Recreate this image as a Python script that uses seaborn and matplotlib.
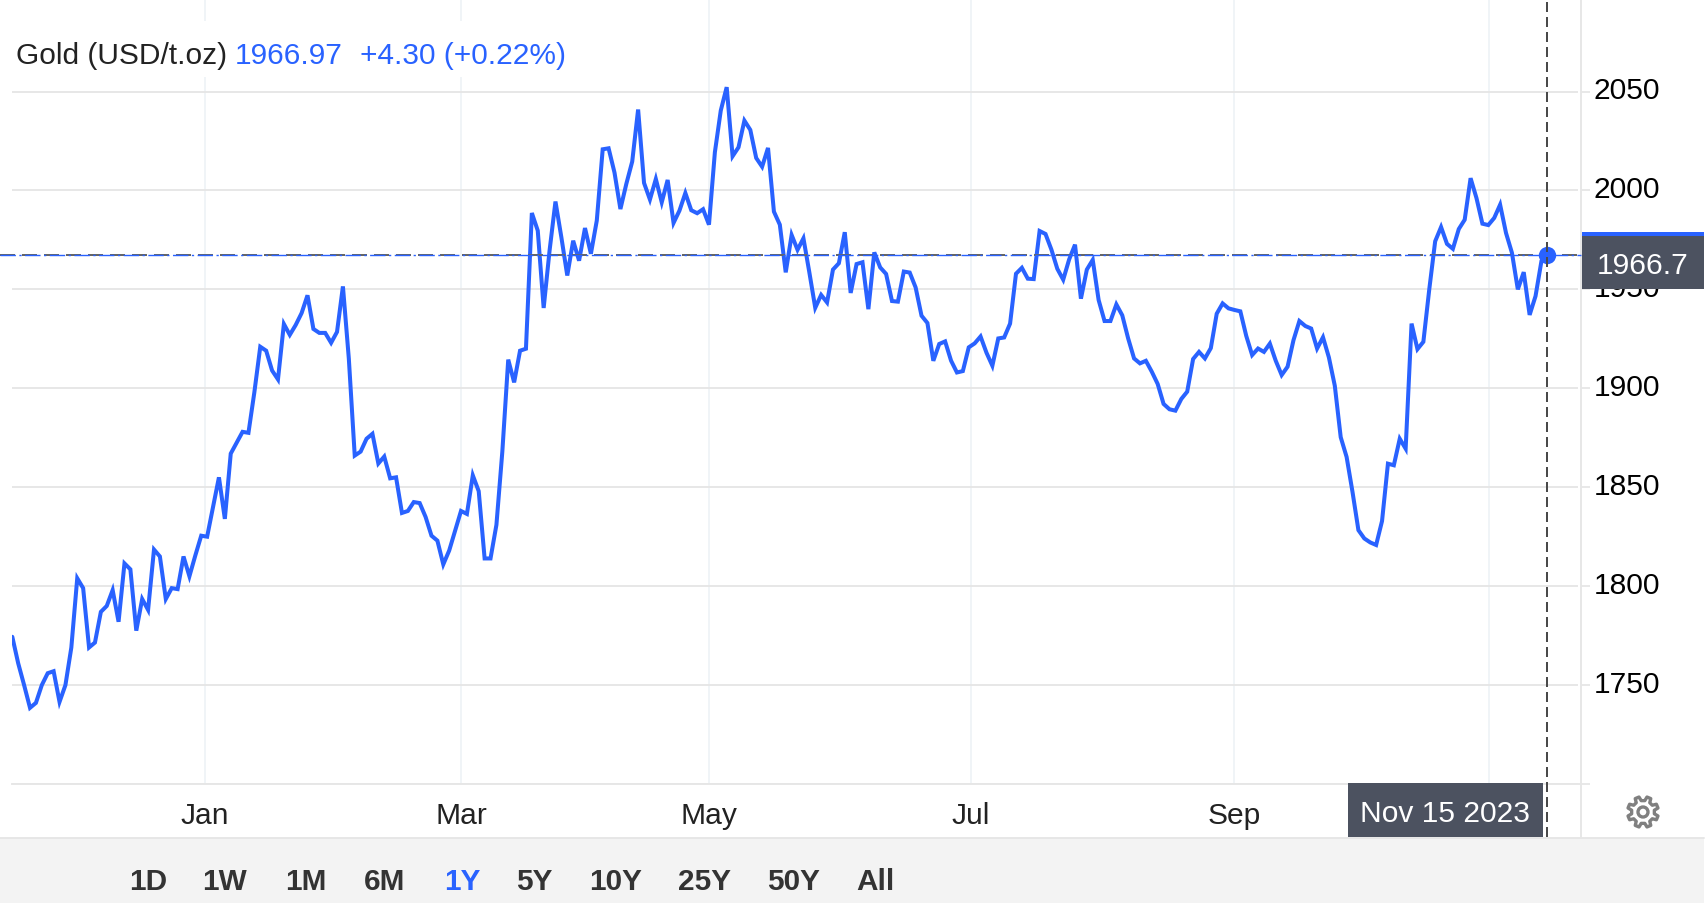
import numpy as np
import pandas as pd
import matplotlib
matplotlib.use("Agg")
import matplotlib.pyplot as plt
from matplotlib.patches import Rectangle, Polygon, Circle
from matplotlib.transforms import ScaledTranslation
import seaborn as sns

gold_prices = [
    1774.4, 1761, 1750, 1738.5, 1741, 1750, 1756, 1757, 1741.5, 1750,
    1769, 1804, 1799, 1769, 1771.5, 1787, 1790, 1798, 1782, 1811.5,
    1808.5, 1777.5, 1793.5, 1788, 1818.5, 1815, 1793.5, 1799, 1798.5, 1815,
    1805, 1815.5, 1825.5, 1825, 1840, 1855, 1834, 1867, 1872.5, 1878,
    1877.5, 1898, 1921, 1919, 1909, 1904.5, 1932.5, 1927, 1932, 1938,
    1947, 1930, 1928, 1928, 1923, 1928.5, 1951.5, 1915, 1866, 1868,
    1874.5, 1877, 1862, 1865.5, 1854.5, 1855, 1837, 1838, 1842.5, 1842,
    1835, 1825.5, 1823, 1811, 1818, 1828, 1838, 1836.5, 1856, 1848,
    1814, 1814, 1831, 1868, 1914.5, 1903, 1919, 1920, 1988.6, 1979.7,
    1940.6, 1969.6, 1994.4, 1976.3, 1957, 1974.6, 1964.5, 1981, 1968, 1984.8,
    2020.8, 2021.3, 2009, 1990.6, 2003.3, 2014.6, 2040.9, 2003.8, 1995.4, 2005.8,
    1994, 2005.3, 1983.6, 1989.8, 1998.7, 1990, 1988.5, 1990.5, 1982.7, 2019.3,
    2040.4, 2052.2, 2017.3, 2021.8, 2035.3, 2030.6, 2016.4, 2012, 2021.5, 1989.3,
    1982.7, 1958.6, 1977.5, 1970, 1975.8, 1958.6, 1940.7, 1947.2, 1943.4, 1960,
    1963.2, 1978.9, 1948.2, 1962.8, 1963.7, 1940, 1968.7, 1961.1, 1957.8, 1944.1,
    1943.8, 1959, 1958.5, 1951, 1936.7, 1933, 1913.9, 1922.4, 1923.7, 1914,
    1908, 1908.7, 1920.7, 1922.7, 1926.2, 1918, 1911.4, 1925.2, 1925.7, 1932.7,
    1957.9, 1960.9, 1955.4, 1955.2, 1979.5, 1978, 1970.1, 1960.4, 1954.9, 1965.1,
    1972.6, 1945.3, 1960, 1964.9, 1944.6, 1934, 1934, 1942.4, 1936.9, 1925.2,
    1915.1, 1912.6, 1913.9, 1908.4, 1902.2, 1892.1, 1889.4, 1888.7, 1894.6, 1898.3,
    1914.8, 1918.4, 1915.1, 1920.3, 1937.7, 1942.9, 1940.4, 1939.6, 1938.9, 1926.5,
    1916.8, 1920.1, 1918.4, 1922.6, 1913.9, 1906.7, 1910.9, 1924.3, 1934, 1931.5,
    1930.2, 1920.1, 1925.8, 1915.6, 1901.3, 1875.3, 1865.3, 1847.6, 1828.3, 1824.1,
    1822.1, 1820.8, 1832.9, 1861.9, 1861.1, 1874.5, 1869.5, 1932.7, 1919.8, 1923.5,
    1950, 1974.3, 1981.5, 1973, 1970.5, 1980.5, 1985.2, 2006.2, 1996.1, 1983.2,
    1982.5, 1986.1, 1992.8, 1978.5, 1968.5, 1950, 1958.7, 1937.1, 1946.6, 1964.3,
    1967.5,
]
month_positions = [32.6, 76.0, 118.0, 162.4, 206.9, 250.1]
month_labels = ["Jan", "Mar", "May", "Jul", "Sep", ""]
price_ticks = [1700, 1750, 1800, 1850, 1900, 1950, 2000, 2050]
price_tick_labels = ["", "1750", "1800", "1850", "1900", "1950", "2000", "2050"]
range_labels = ["1D", "1W", "1M", "6M", "1Y", "5Y", "10Y", "25Y", "50Y", "All"]
range_centres = [148, 225, 306, 385, 462, 534, 616, 705, 794, 875]
active_range = "1Y"

BLUE = "#2962ff"
GRID = "#e6e6e6"
VGRID = "#eff3f7"
DARK = "#4c5260"
W, H = 1706, 904
px = 72 / 100

sns.set_theme(style="white")
plt.rcParams["font.family"] = ["Liberation Sans", "DejaVu Sans"]

df = pd.DataFrame({"i": np.arange(len(gold_prices)), "price": gold_prices})

fig = plt.figure(figsize=(W / 100, H / 100), dpi=100, facecolor="white")
ax = fig.add_axes([12 / W, (H - 785) / H, (1581 - 12) / W, 785 / H])
ax.set_axisbelow(True)

sns.lineplot(data=df, x="i", y="price", ax=ax, color=BLUE, linewidth=2.9,
             zorder=3, errorbar=None, solid_joinstyle="miter")

ax.set_xlim(-0.05, 265.7)
ax.set_ylim(1700, 1700 + 785 / 1.9785)
ax.set_xlabel("")
ax.set_ylabel("")

ax.set_xticks(month_positions, month_labels)
ax.yaxis.tick_right()
ax.set_yticks(price_ticks, price_tick_labels)
ax.tick_params(axis="x", length=0, pad=12.5, labelsize=21.6, labelcolor="#222222")
ax.tick_params(axis="y", length=9 * px, width=1.8 * px, color=GRID, pad=2.8,
               labelsize=21.6, labelcolor="black")
ax.xaxis.grid(True, color=VGRID, linewidth=1.8 * px)
ax.yaxis.grid(True, color=GRID, linewidth=1.9 * px)
for lab in ax.get_yticklabels():
    lab.set_transform(lab.get_transform() + ScaledTranslation(0, 4.5 / 100, fig.dpi_scale_trans))

for side in ["top", "left"]:
    ax.spines[side].set_visible(False)
for side in ["bottom", "right"]:
    ax.spines[side].set_color(GRID)
    ax.spines[side].set_linewidth(1.9 * px)

# gap between the plot area and the price axis
ax.axvspan(265.2, 265.7, color="white", lw=0, zorder=1)
# price axis runs on down to the range bar
ax.axvline(265.7, ymin=-53 / 785, ymax=0, color=GRID, lw=1.9 * px, clip_on=False)

# crosshair
last = gold_prices[-1]
last_i = len(gold_prices) - 1
ax.axhline(last, xmin=-12 / 1569, xmax=1, color="#666666", lw=2.0 * px, clip_on=False,
           dashes=(15 / 2.0, 7 / 2.0), zorder=3.1)
ax.axhline(last, xmin=-12 / 1569, xmax=1, color=BLUE, lw=1.4 * px, clip_on=False,
           dashes=(11, 2.5, 1.6, 2.5), zorder=3.2)
ax.plot([last_i], [last], "o", ms=12.5, color=BLUE, mec="none", zorder=4)
ax.axvline(last_i, ymin=-53 / 785, ymax=1, color="#4a4a4a", lw=2.0 * px, clip_on=False,
           dashes=(10 / 2.0, 5 / 2.0), zorder=5)

# header backing and page furniture, placed in pixel coordinates
ov = fig.add_axes([0, 0, 1, 1], zorder=5, facecolor="none")
ov.set_xlim(0, W)
ov.set_ylim(H, 0)
ov.axis("off")

ov.add_patch(Rectangle((12, 22), 565, 56, fc="white", ec="none"))
title_kw = dict(fontsize=21.5, va="baseline", ha="left")
ov.text(16, 64, "Gold (USD/t.oz)", color="#222222", **title_kw)
ov.text(235, 64, "1966.97", color=BLUE, **title_kw)
ov.text(360, 64, "+4.30 (+0.22%)", color=BLUE, **title_kw)

# value flag
ov.add_patch(Rectangle((1582, 233), 122, 57, fc=DARK, ec="none"))
ov.add_patch(Rectangle((1582, 233), 122, 3.5, fc=BLUE, ec="none"))
ov.text(1643, 274.5, "1966.7", color="white", fontsize=21.6, ha="center", va="baseline")

# date flag
ov.add_patch(Rectangle((1348, 784), 195, 54, fc=DARK, ec="none"))
ov.text(1445.5, 822, "Nov 15 2023", color="white", fontsize=21.6, ha="center", va="baseline")

# range bar
ov.add_patch(Rectangle((0, 839), 1704, 65, fc="#f3f3f3", ec="none"))
ov.plot([0, 1704], [839, 839], color=GRID, lw=1.9 * px)
for lab, c in zip(range_labels, range_centres):
    ov.text(c, 890.5, lab, fontsize=21.4, fontweight="bold", ha="center", va="baseline",
            color=BLUE if lab == active_range else "#333333")

# settings icon
gx, gy, teeth = 1643, 813, 8
ang, rad = [], []
for k in range(teeth):
    a = 2 * np.pi * k / teeth + np.pi / 8
    step = 2 * np.pi / teeth
    ang += [a - 0.30 * step, a - 0.17 * step, a + 0.17 * step, a + 0.30 * step]
    rad += [11.5, 15.5, 15.5, 11.5]
ang, rad = np.array(ang), np.array(rad)
ov.add_patch(Polygon(np.c_[gx + rad * np.cos(ang), gy + rad * np.sin(ang)], closed=True,
                     fc="none", ec="#808080", lw=2.4, joinstyle="round"))
ov.add_patch(Circle((gx, gy), 5, fc="none", ec="#808080", lw=2.4))

fig.savefig("out.png", dpi=100, facecolor="white")
